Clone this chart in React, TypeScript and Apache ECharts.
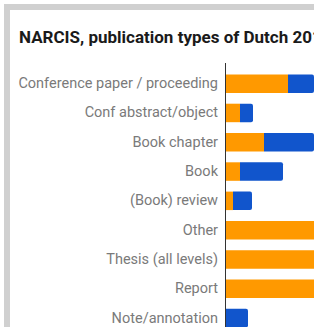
import React, { useEffect, useRef } from "react";
import * as echarts from "echarts";

const categories = [
  "Conference paper / proceeding",
  "Conf abstract/object",
  "Book chapter",
  "Book",
  "(Book) review",
  "Other",
  "Thesis (all levels)",
  "Report",
  "Note/annotation",
];
const orangeValues = [6200, 1400, 3800, 1400, 700, 12000, 15000, 14000, 0];
const blueValues = [7000, 1300, 6000, 4300, 1900, 0, 0, 0, 2200];
const titleText = "NARCIS, publication types of Dutch 2017";

export default function App() {
  const ref = useRef<HTMLDivElement>(null);
  useEffect(() => {
    if (!ref.current) return;
    const chart = echarts.init(ref.current, null, { renderer: "svg" });
    chart.setOption({
      animation: false,
      title: {
        text: titleText,
        left: 19,
        top: 28,
        padding: 0,
        textStyle: { fontFamily: "Roboto", fontWeight: "bold", fontSize: 17, color: "#1a1a1a" },
      },
      grid: { left: 226, right: 0, top: 69, bottom: 7.3, containLabel: false },
      xAxis: {
        type: "value",
        min: 0,
        max: 8800,
        show: false,
        splitLine: { show: false },
      },
      yAxis: {
        type: "category",
        inverse: true,
        data: categories,
        axisLine: { show: false },
        axisTick: { show: false },
        axisLabel: { margin: 8, fontFamily: "Roboto", fontSize: 14.5, color: "#7a7a7a" },
      },
      graphic: [
        {
          type: "line",
          shape: { x1: 225.5, y1: 63, x2: 225.5, y2: 340 },
          style: { stroke: "#333333", lineWidth: 1 },
          z: 10,
        },
      ],
      series: [
        {
          type: "bar",
          stack: "total",
          data: orangeValues,
          barWidth: 18.5,
          itemStyle: { color: "#ff9900" },
          clip: true,
        },
        {
          type: "bar",
          stack: "total",
          data: blueValues,
          barWidth: 18.5,
          itemStyle: { color: "#1155cc", borderRadius: [0, 2, 2, 0] },
          clip: true,
        },
      ],
    });
    return () => chart.dispose();
  }, []);
  return (
    <div style={{ position: "fixed", left: 0, top: 0, width: 314, height: 327, overflow: "hidden", background: "#fff" }}>
      <div
        style={{
          position: "absolute",
          left: 4,
          top: 4,
          width: 400,
          height: 400,
          borderLeft: "6px solid #d0d0d0",
          borderTop: "6px solid #d0d0d0",
          boxSizing: "border-box",
        }}
      />
      <div ref={ref} style={{ position: "absolute", left: 0, top: 0, width: 314, height: 340 }} />
    </div>
  );
}
